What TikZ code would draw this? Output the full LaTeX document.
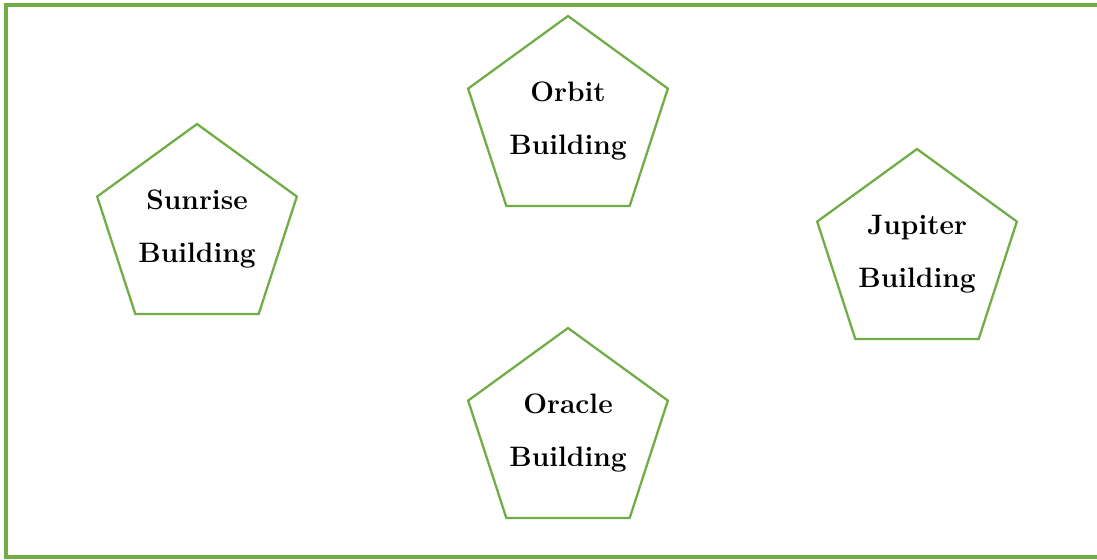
\documentclass[tikz,border=0pt]{standalone}
\usepackage{xcolor}
\usepackage{tikz}
\usetikzlibrary{shapes.geometric}
\definecolor{leafgreen}{HTML}{70AD47}
\tikzset{building/.style={draw=leafgreen, line width=1.3pt, regular polygon, regular polygon sides=5,
    minimum size=4.2cm, inner sep=0pt, align=center, font=\fontsize{16}{30}\selectfont\bfseries}}

\begin{document}
\begin{tikzpicture}[x=0.02cm, y=-0.02cm]
    \useasboundingbox (0,0) rectangle (1097,559);
    % frame
    \draw[leafgreen, line width=1.8pt] (1105,5) -- (6,5) -- (6,557) -- (1105,557);

    \node[building] at (568, 121) (orbit) {Orbit\\Building};
    \node[building] at (197, 229) (sunrise) {Sunrise\\Building};
    \node[building] at (917, 254) (jupiter) {Jupiter\\Building};
    \node[building] at (568, 433) (oracle) {Oracle\\Building};
\end{tikzpicture}
\end{document}
